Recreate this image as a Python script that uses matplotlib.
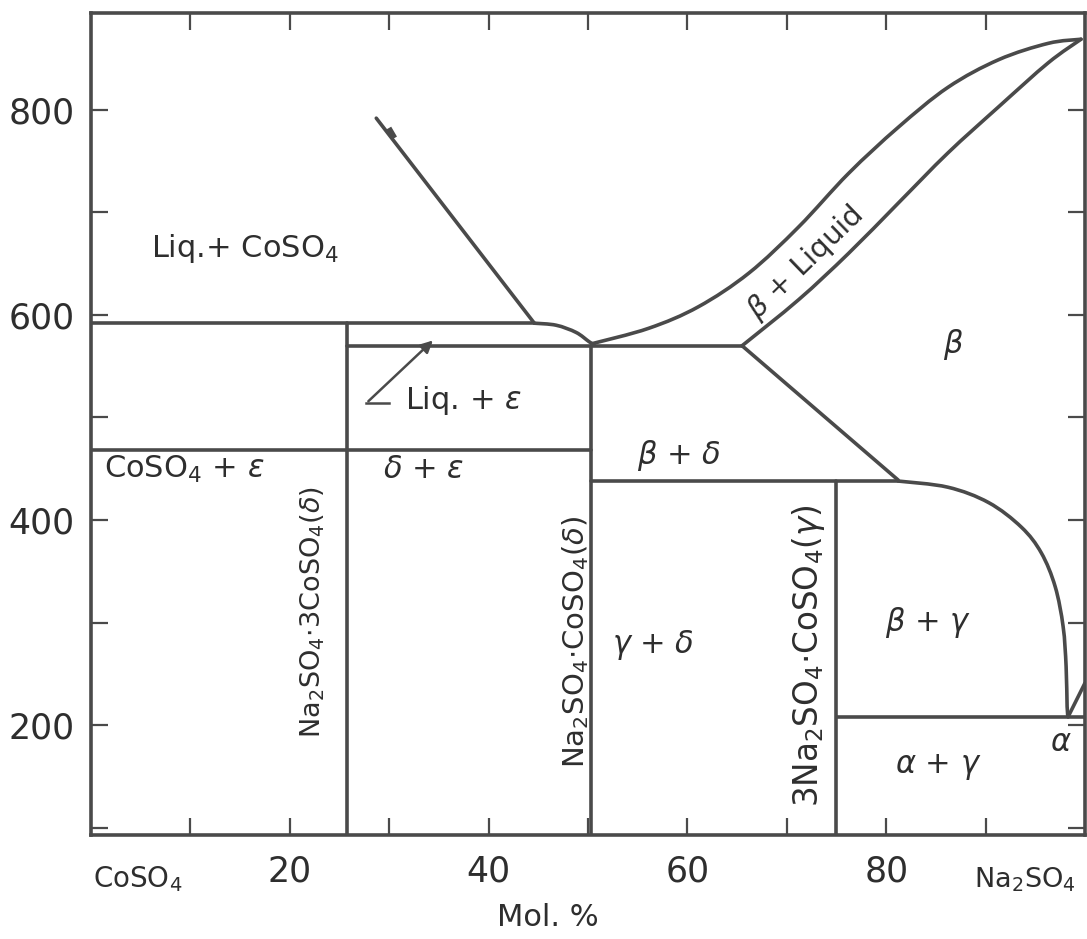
import matplotlib
matplotlib.use('Agg')
import numpy as np
import matplotlib.pyplot as plt
from matplotlib.path import Path
from matplotlib.patches import PathPatch


# Boundary lines of the CoSO4 - Na2SO4 system (mol % Na2SO4, temperature C)
liquidus_co_x = [28.7, 44.6]
liquidus_co_t = [792, 592]

upper_flat_x = [0, 44.6]
upper_flat_t = [592, 592]
upper_bend_x = [44.6, 46.8, 48.8, 50.1, 50.6]
upper_bend_t = [592, 590, 583, 574, 571]

eutectic_x = [25.8, 65.5]
eutectic_t = [570, 570]

lower_flat_x = [0, 50.3]
lower_flat_t = [468, 468]

liquidus_na_x = [50.4, 56.1, 61.1, 66.2, 71.2, 76.2, 81.2, 86.2, 91.3, 96.3, 99.6]
liquidus_na_t = [572, 587, 608, 641, 686, 738, 783, 822, 849, 865, 869]

solidus_na_x = [65.5, 71.2, 76.2, 81.2, 86.2, 91.3, 96.3, 99.6]
solidus_na_t = [570, 615, 660, 709, 758, 803, 846, 869]

beta_delta_x = [65.5, 81.2]
beta_delta_t = [570, 439]

gamma_flat_x = [50.3, 81.2]
gamma_flat_t = [438, 438]
solvus_x = [81.2, 86.2, 90.3, 93.6, 95.6, 97.0, 97.8, 98.1, 98.2, 98.3]
solvus_t = [438, 432, 417, 393, 368, 335, 296, 257, 218, 208]

alpha_x = [98.3, 100]
alpha_t = [208, 241]

alpha_flat_x = [75, 100]
alpha_flat_t = [208, 208]

# compounds: composition and upper temperature of their vertical lines
compound_x = [25.8, 50.3, 74.9]
compound_top = [592, 570, 438]

xticks = [10, 20, 30, 40, 50, 60, 70, 80, 90]
xlabels_pos = [20, 40, 60, 80]
yticks = [100, 200, 300, 400, 500, 600, 700, 800]
ylabels_pos = [200, 400, 600, 800]

# region labels: x, T, text, rotation, size
labels = [
    (15.5, 665, r'Liq.+ CoSO$_4$', 0, 22),
    (37.5, 517, r'Liq. + $\varepsilon$', 0, 22),
    (59.1, 463, r'$\beta$ + $\delta$', 0, 22),
    (71.9, 651, r'$\beta$ + Liquid', 44, 21),
    (86.7, 571, r'$\beta$', 0, 22),
    (9.4, 449, r'CoSO$_4$ + $\varepsilon$', 0, 22),
    (22.3, 310, r'Na$_2$SO$_4$$\cdot$3CoSO$_4$($\delta$)', 90, 19.5),
    (33.5, 449, r'$\delta$ + $\varepsilon$', 0, 22),
    (48.8, 281, r'Na$_2$SO$_4$$\cdot$CoSO$_4$($\delta$)', 90, 21),
    (56.6, 278, r'$\gamma$ + $\delta$', 0, 22),
    (72.2, 268, r'3Na$_2$SO$_4$$\cdot$CoSO$_4$($\gamma$)', 90, 23.5),
    (84.2, 300, r'$\beta$ + $\gamma$', 0, 22),
    (85.2, 159, r'$\alpha$ + $\gamma$', 0, 22),
    (97.6, 183, r'$\alpha$', 0, 22),
]

LINE = '#4a4a4a'
TXT = '#2e2e2e'
lw = 2.6

plt.rcParams['font.family'] = ['DejaVu Sans']
plt.rcParams['mathtext.fontset'] = 'dejavusans'

fig = plt.figure(figsize=(10.87, 9.39), dpi=100)
ax = fig.add_axes([91 / 1087, 1 - 835 / 939, (1085 - 91) / 1087, (835 - 13) / 939])


def seg(xs, ts):
    ax.plot(xs, ts, color=LINE, lw=lw, solid_capstyle='round', solid_joinstyle='round')


def curve(xs, ts):
    # smooth line through the points (Catmull-Rom as cubic Bezier pieces)
    p = np.column_stack([xs, ts]).astype(float)
    verts = [p[0]]
    codes = [Path.MOVETO]
    n = len(p)
    for i in range(n - 1):
        p0 = p[i - 1] if i > 0 else p[i]
        p3 = p[i + 2] if i + 2 < n else p[i + 1]
        verts += [p[i] + (p[i + 1] - p0) / 6, p[i + 1] - (p3 - p[i]) / 6, p[i + 1]]
        codes += [Path.CURVE4] * 3
    ax.add_patch(PathPatch(Path(verts, codes), fill=False, ec=LINE, lw=lw,
                           joinstyle='round', capstyle='round'))


seg(liquidus_co_x, liquidus_co_t)
seg(upper_flat_x, upper_flat_t)
curve(upper_bend_x, upper_bend_t)
seg(eutectic_x, eutectic_t)
seg(lower_flat_x, lower_flat_t)
curve(liquidus_na_x, liquidus_na_t)
curve(solidus_na_x, solidus_na_t)
seg(beta_delta_x, beta_delta_t)
seg(gamma_flat_x, gamma_flat_t)
curve(solvus_x, solvus_t)
seg(alpha_x, alpha_t)
seg(alpha_flat_x, alpha_flat_t)
for cx, top in zip(compound_x, compound_top):
    seg([cx, cx], [92, top])

# small barb on the CoSO4 liquidus
ax.plot([30.1, 30.4], [780, 775], color=LINE, lw=4)

# pointer from the Liq.+eps label into the thin band
ax.plot([30.0, 27.7], [514, 514], color=LINE, lw=1.8)
ax.annotate('', xy=(34.6, 577), xytext=(27.7, 514),
            arrowprops=dict(arrowstyle='-|>', color=LINE, lw=1.8, mutation_scale=18))

for x, t, s, rot, fs in labels:
    ax.text(x, t, s, ha='center', va='center', rotation=rot, fontsize=fs, color=TXT,
            rotation_mode='anchor')

ax.set_xlim(0, 100)
ax.set_ylim(92.7, 894.6)

ax.set_xticks(xticks)
ax.set_xticklabels([str(v) if v in xlabels_pos else '' for v in xticks])
ax.set_yticks(yticks)
ax.set_yticklabels([str(v) if v in ylabels_pos else '' for v in yticks])
ax.tick_params(direction='in', length=12, width=1.6, color=LINE, top=True, right=True,
               labelsize=25, labelcolor=TXT)
ax.tick_params(axis='x', pad=14)
ax.tick_params(axis='y', pad=12)
for sp in ax.spines.values():
    sp.set_color(LINE)
    sp.set_linewidth(2.6)

ax.text(0.002, -0.054, r'CoSO$_4$', transform=ax.transAxes, ha='left', va='center',
        fontsize=20, color=TXT)
ax.text(0.888, -0.054, r'Na$_2$SO$_4$', transform=ax.transAxes, ha='left', va='center',
        fontsize=19.5, color=TXT)
ax.text(46, -0.1, 'Mol. %', transform=ax.get_xaxis_transform(), ha='center', va='center',
        fontsize=22, color=TXT)

fig.savefig('out.png', dpi=100)
